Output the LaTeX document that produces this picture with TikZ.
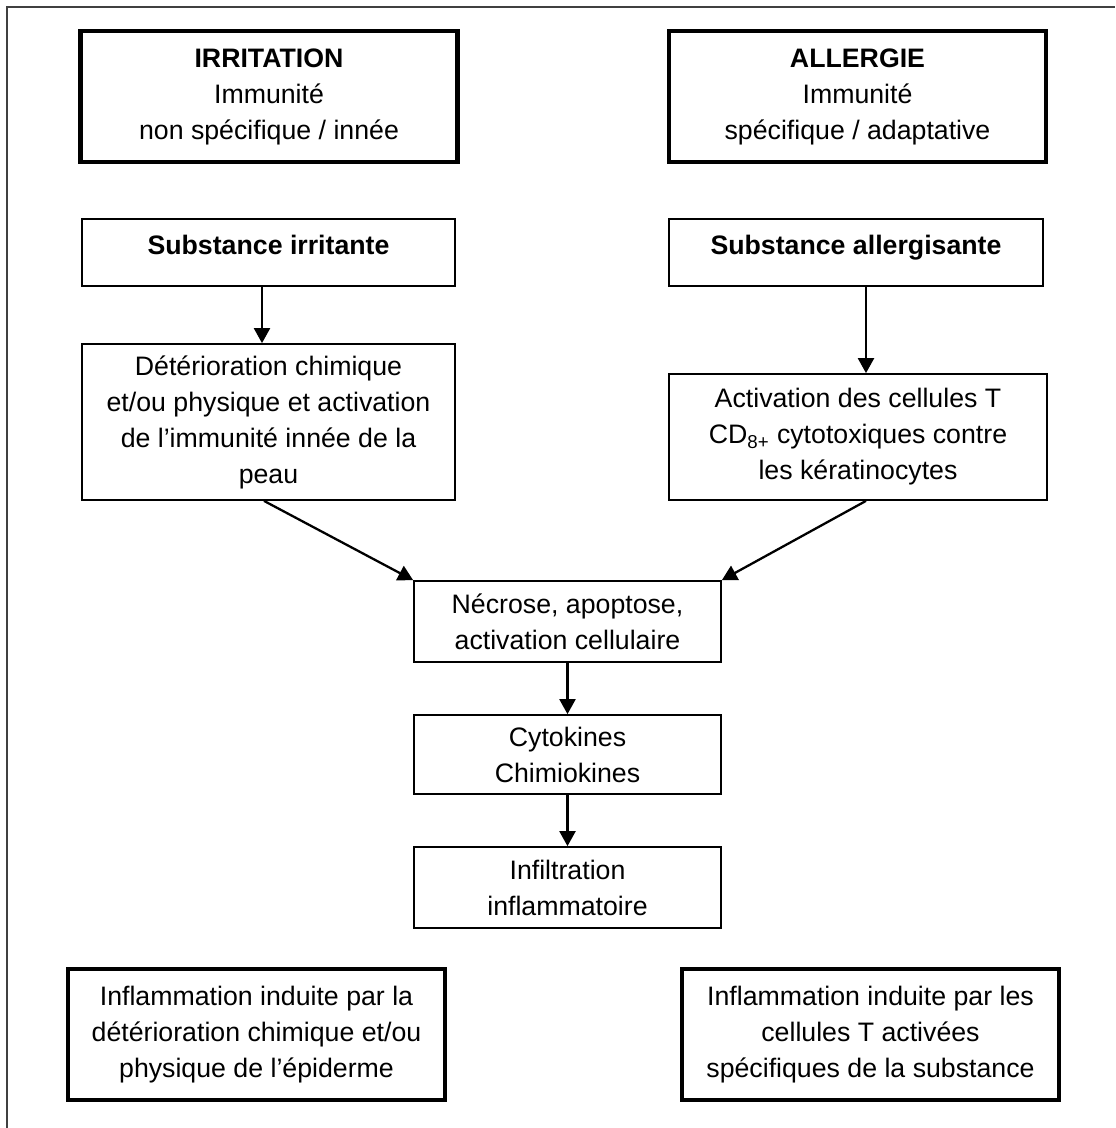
\documentclass[tikz,border=0pt]{standalone}
\usepackage{fontspec}
\setmainfont{Liberation Sans}
\usetikzlibrary{arrows.meta}

\begin{document}
\begin{tikzpicture}[
	font=\fontsize{15.2pt}{20.5pt}\selectfont,
	box/.style={draw, line width=1pt, align=center, inner sep=0pt},
	bigbox/.style={draw, line width=2.6pt, align=center, inner sep=0pt, minimum width=75.4mm, minimum height=26.2mm},
	subbox/.style={box, minimum width=74.7mm, minimum height=13.4mm, text height=11pt, text depth=8.5pt},
	midbox/.style={box, minimum width=61.4mm},
	arr/.style={line width=1.3pt, -{Triangle[width=3.2mm,length=3mm]}}]
\useasboundingbox (0,0) rectangle (22.3,-22.56);
\draw[line width=0.04cm, black!75] (0.14,-22.56) -- (0.14,-0.14) -- (22.3,-0.14);

		\node[bigbox] (irr) at (5.38,-1.93) {\textbf{IRRITATION}\\Immunité\\non spécifique / innée};
		\node[bigbox] (all) at (17.15,-1.93) {\textbf{ALLERGIE}\\Immunité\\spécifique / adaptative};

\node[subbox] (subirr) at (5.37,-5.05) {\textbf{Substance irritante}};
\node[subbox] (suball) at (17.12,-5.05) {\textbf{Substance allergisante}};
\node[box, minimum width=74.6mm, minimum height=31.2mm] (det) at (5.37,-8.44) {Détérioration chimique\\et/ou physique et activation\\de l’immunité innée de la\\peau};
\node[box, minimum width=75.6mm, minimum height=25.2mm] (act) at (17.16,-8.74) {Activation des cellules T\\CD\textsubscript{8+} cytotoxiques contre\\les kératinocytes};
\node[midbox, minimum height=16.2mm] (nec) at (11.35,-12.43) {Nécrose, apoptose,\\activation cellulaire};
\node[midbox, minimum height=15.8mm] (cyto) at (11.35,-15.09) {Cytokines\\Chimiokines};
\node[midbox, minimum height=16.2mm] (infil) at (11.35,-17.75) {Infiltration\\inflammatoire};

		\node[bigbox] (inflirr) at (5.13,-20.69) {Inflammation induite par la\\détérioration chimique et/ou\\physique de l’épiderme};
		\node[bigbox] (inflall) at (17.41,-20.69) {Inflammation induite par les\\cellules T activées\\spécifiques de la substance};

\draw[arr] ([xshift=-1.3mm]subirr.south) -- ([xshift=-1.3mm]subirr.south |- det.north);
\draw[arr] ([xshift=2mm]suball.south) -- ([xshift=2mm]suball.south |- act.north);
\draw[arr] ([xshift=-0.9mm]det.south) -- (nec.north west);
\draw[arr] ([xshift=1.6mm]act.south) -- (nec.north east);
\draw[arr] (nec.south) -- (cyto.north);
\draw[arr] (cyto.south) -- (infil.north);

\end{tikzpicture}
\end{document}
